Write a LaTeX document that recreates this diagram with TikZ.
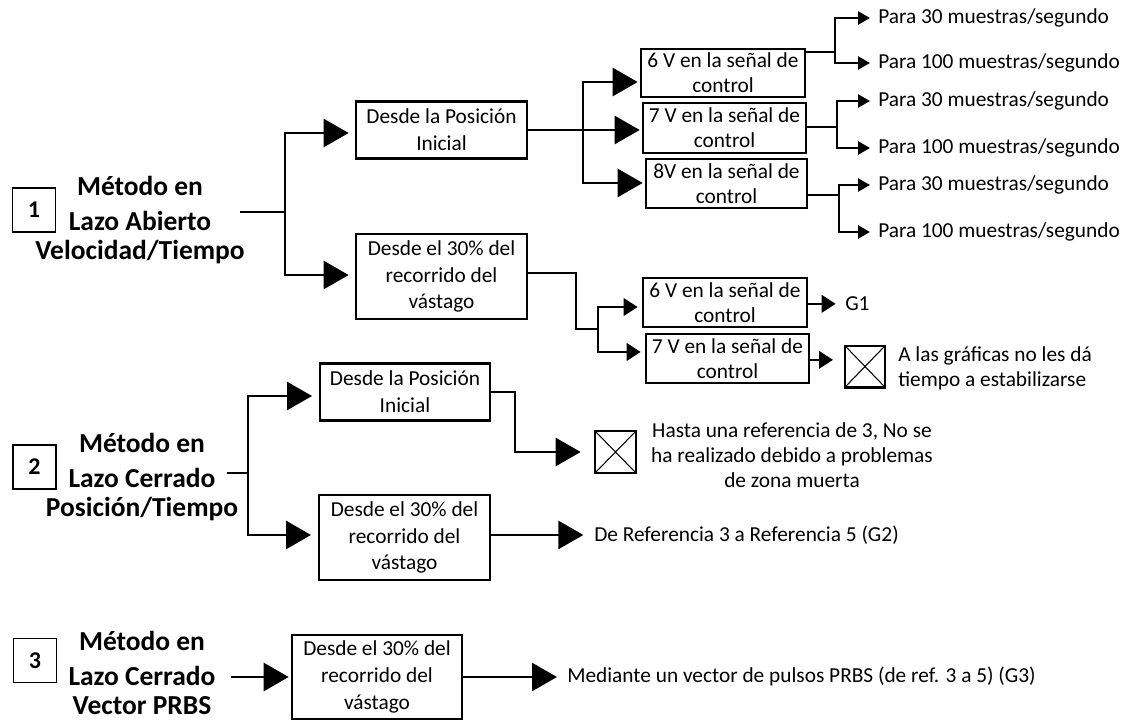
\documentclass[tikz,border=0pt]{standalone}
\usepackage{fontspec}
\setmainfont{Carlito}
\usetikzlibrary{arrows.meta}
\begin{document}
\begin{tikzpicture}[x=0.75pt,y=-0.75pt,
  conn/.style={line width=2pt},
  bigarr/.style={-{Triangle[length=18.75pt,width=21pt]}},
  midarr/.style={-{Triangle[length=10.5pt,width=13pt]}},
  smallarr/.style={-{Triangle[length=9pt,width=9.75pt]}},
  box/.style={draw, line width=2pt, inner sep=0pt, align=center, font=\fontsize{16}{20}\selectfont},
  vbox/.style={box, font=\fontsize{16}{18.75}\selectfont},
  numbox/.style={draw, line width=1pt, inner sep=0pt, minimum width=32.25pt, minimum height=33pt, font=\bfseries\fontsize{18}{20}\selectfont},
  lab/.style={align=center, inner sep=0pt, font=\bfseries\fontsize{20.6}{22}\selectfont},
  txt/.style={inner sep=0pt, anchor=west, font=\fontsize{16}{18.75}\selectfont},
  xbox/.style={draw, line width=2pt, inner sep=0pt, minimum width=30pt, minimum height=31pt,
    path picture={\draw[line width=0.8pt] (path picture bounding box.north west) -- (path picture bounding box.south east)
      (path picture bounding box.south west) -- (path picture bounding box.north east);}}
]
\useasboundingbox (0,0) rectangle (1131,720);

% ---------- group 1 ----------
\node[numbox] (n1) at (34,210) {1};
\node[lab] (lab1) at (140,220) {Método en\\[4pt]Lazo Abierto\\Velocidad/Tiempo};
\node[box, minimum width=128.25pt, minimum height=42.75pt] (pi1) at (441.5,130) {Desde la Posición\\Inicial};
\node[box, minimum width=128.25pt, minimum height=63.75pt] (p30a) at (441.5,276.5) {Desde el 30\% del\\recorrido del\\vástago};
\node[vbox, minimum width=123pt, minimum height=36pt] (v6a) at (723,73) {6 V en la señal de\\control};
\node[vbox, minimum width=122.25pt, minimum height=37.5pt] (v7a) at (724.5,128) {7 V en la señal de\\control};
\node[vbox, minimum width=120.75pt, minimum height=36.75pt] (v8a) at (726.5,183.5) {8V en la señal de\\control};
\node[txt] (pa1) at (878,18) {Para 30 muestras/segundo};
\node[txt] (pa2) at (878,63) {Para 100 muestras/segundo};
\node[txt] (pa3) at (878,101) {Para 30 muestras/segundo};
\node[txt] (pa4) at (878,148) {Para 100 muestras/segundo};
\node[txt] (pa5) at (878,185) {Para 30 muestras/segundo};
\node[txt] (pa6) at (878,232) {Para 100 muestras/segundo};
\node[vbox, minimum width=123pt, minimum height=36.75pt] (v6b) at (725,302.5) {6 V en la señal de\\control};
\node[vbox, minimum width=122.25pt, minimum height=36.75pt] (v7b) at (727.5,358.5) {7 V en la señal de\\control};
\node[txt] (g1) at (845,304) {G1};
\node[xbox] (xb1) at (865,366.5) {};
\node[txt, align=left] (txA) at (898,368) {A las gráficas no les dá\\tiempo a estabilizarse};

\coordinate (s1) at (240,212);
\coordinate (j1) at (285,212);
\draw[conn] (s1) -- (j1);
\draw[conn,bigarr,shorten >=4.5pt] (j1) |- ([yshift=-2.25pt]pi1.west);
\draw[conn,bigarr,shorten >=4.5pt] (j1) |- ([yshift=1.1pt]p30a.west);

\coordinate (j2) at (583,130);
\draw[conn] (pi1.east) -- (j2);
\draw[conn,bigarr,shorten >=1.5pt] (j2) |- ([yshift=-6.75pt]v6a.west);
\draw[conn,bigarr,shorten >=1.5pt] (j2) -- (j2 -| v7a.west);
\draw[conn,bigarr,shorten >=1.5pt] (j2) |- ([yshift=0.4pt]v8a.west);

\coordinate (k1) at (835,52);
\draw[conn] ([yshift=15.75pt]v6a.east) -- (k1);
\draw[conn,smallarr,shorten >=6pt] (k1) |- (pa1.west);
\draw[conn,smallarr,shorten >=6pt] (k1) |- (pa2.west);
\coordinate (k2) at (837,127);
\draw[conn] (v7a.east |- k2) -- (k2);
\draw[conn,smallarr,shorten >=6pt] (k2) |- (pa3.west);
\draw[conn,smallarr,shorten >=6pt] (k2) |- (pa4.west);
\coordinate (k3) at (839,195);
\draw[conn] (v8a.east |- k3) -- (k3);
\draw[conn,smallarr,shorten >=6pt] (k3) |- (pa5.west);
\draw[conn,smallarr,shorten >=6pt] (k3) |- (pa6.west);

\coordinate (j3) at (576,329);
\coordinate (j4) at (598,329);
\draw[conn] ([yshift=2.6pt]p30a.east) -| (j3) -- (j4);
\draw[conn,midarr,shorten >=3pt] (j4) |- ([yshift=-3.4pt]v6b.west);
\draw[conn,midarr,shorten >=3pt] (j4) |- ([yshift=4.9pt]v7b.west);
\coordinate (e6b) at ([yshift=-1pt]v6b.east);
\coordinate (e7b) at ([yshift=-1pt]v7b.east);
\draw[conn,midarr,shorten >=7pt] (e6b) -- (g1.west |- e6b);
\draw[conn,midarr,shorten >=8pt] (e7b) -- (xb1.west |- e7b);

% ---------- group 2 ----------
\node[numbox] (n2) at (34.5,467) {2};
\node[lab] (lab2) at (142,477) {Método en\\[4pt]Lazo Cerrado\\Posición/Tiempo};
\node[box, minimum width=127.5pt, minimum height=42.75pt] (pi2) at (405,392) {Desde la Posición\\Inicial};
\node[box, minimum width=128.25pt, minimum height=63.75pt] (p30b) at (404.5,537.5) {Desde el 30\% del\\recorrido del\\vástago};
\node[xbox, minimum width=30.75pt, minimum height=31.5pt] (xb2) at (615.5,452) {};
\node[inner sep=0pt, align=center, font=\fontsize{16}{18.75}\selectfont] (txH) at (792,455) {Hasta una referencia de 3, No se\\ha realizado debido a problemas\\de zona muerta};
\node[txt] (txD) at (594,535) {De Referencia 3 a Referencia 5 (G2)};

\coordinate (s2) at (227,473);
\coordinate (j5) at (248,473);
\draw[conn] (s2) -- (j5);
\draw[conn,bigarr,shorten >=5pt] (j5) |- ([yshift=-3pt]pi2.west);
\draw[conn,bigarr,shorten >=5pt] (j5) |- ([yshift=1.9pt]p30b.west);
\coordinate (j6) at (515,452);
\draw[conn,bigarr,shorten >=9.75pt] (pi2.east) -- (pi2.east -| j6) -- (j6) -- (xb2.west);
\coordinate (e30b) at ([yshift=1.9pt]p30b.east);
\draw[conn,bigarr,shorten >=8pt] (e30b) -- (txD.west |- e30b);

% ---------- group 3 ----------
\node[numbox] (n3) at (35,660.5) {3};
\node[lab] (lab3) at (142,673) {Método en\\[4pt]Lazo Cerrado\\Vector PRBS};
\node[box, minimum width=127.5pt, minimum height=63pt] (p30c) at (377,677) {Desde el 30\% del\\recorrido del\\vástago};
\node[txt] (txM) at (567,676) {Mediante un vector de pulsos PRBS (de ref. 3 a 5) (G3)};

\coordinate (s3) at (231,677);
\draw[conn,bigarr,shorten >=1.5pt] (s3) -- (p30c.west);
\draw[conn,bigarr,shorten >=7.5pt] (p30c.east) -- (p30c.east -| txM.west);
\end{tikzpicture}
\end{document}
